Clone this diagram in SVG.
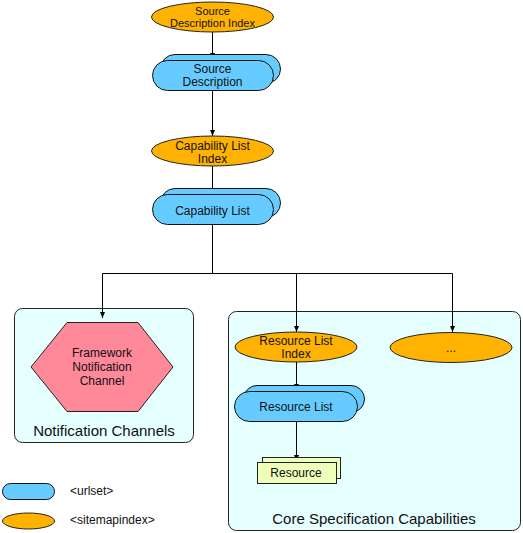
<svg xmlns="http://www.w3.org/2000/svg" width="523" height="533" viewBox="0 0 523 533">
<style>
text{font-family:"Liberation Sans",Arial,sans-serif;font-size:12px;fill:#111;text-anchor:middle}
.idx{fill:#FFB300;stroke:#222;stroke-width:1}
.url{fill:#66CCFF;stroke:#111;stroke-width:1}
.grp{fill:#E6FFFF;stroke:#222;stroke-width:1}
.res{fill:#EEFFBB;stroke:#222;stroke-width:1}
.big{font-size:15px}
.sm{font-size:11px}
.lg{text-anchor:start}
.c{fill:none;stroke:#000;stroke-width:1}
</style>
<defs>
<marker id="ah" viewBox="0 0 6 6" refX="6" refY="3" markerWidth="6" markerHeight="6" orient="auto" markerUnits="userSpaceOnUse">
<path d="M0,0.5 L6,3 L0,5.5 z" fill="#000"/>
</marker>
</defs>
<rect width="523" height="533" fill="#fff"/>
<g id="notification-channels">
<rect class="grp" x="14.5" y="308.5" width="179" height="134" rx="8"/>
<text class="big" x="104" y="436">Notification Channels</text>
</g>
<g id="core-capabilities">
<rect class="grp" x="228.5" y="311.5" width="292" height="219" rx="8"/>
<text class="big" x="374" y="524">Core Specification Capabilities</text>
</g>
<g id="connectors">
<path class="c" d="M212.5,32 V59" marker-end="url(#ah)"/>
<path class="c" d="M212.5,90 V136" marker-end="url(#ah)"/>
<path class="c" d="M212.5,166 V194" marker-end="url(#ah)"/>
<path class="c" d="M212.5,225 V273.5 H102.5 V318" marker-end="url(#ah)"/>
<path class="c" d="M212.5,273.5 H452.5 V332" marker-end="url(#ah)"/>
<path class="c" d="M296.5,273.5 V332" marker-end="url(#ah)"/>
<path class="c" d="M296.5,362 V390" marker-end="url(#ah)"/>
<path class="c" d="M296.5,421 V461" marker-end="url(#ah)"/>
</g>
<g id="source-description-index">
<ellipse class="idx" cx="212.5" cy="17" rx="61" ry="15"/>
<text class="sm" x="212.5" y="15">Source</text>
<text class="sm" x="212.5" y="27">Description Index</text>
</g>
<g id="source-description">
<rect class="url" x="160.5" y="54.5" width="120" height="29" rx="14.5"/>
<rect class="url" x="152.5" y="60.5" width="121" height="30" rx="15"/>
<text x="212.5" y="73">Source</text>
<text x="212.5" y="86">Description</text>
</g>
<g id="capability-list-index">
<ellipse class="idx" cx="212.5" cy="151" rx="61" ry="15"/>
<text x="212.5" y="150">Capability List</text>
<text x="212.5" y="163">Index</text>
</g>
<g id="capability-list">
<rect class="url" x="160.5" y="188.5" width="120" height="29" rx="14.5"/>
<rect class="url" x="152.5" y="194.5" width="121" height="30" rx="15"/>
<text x="212.5" y="215">Capability List</text>
</g>
<g id="framework-notification-channel">
<polygon points="31,367 67,322.5 138,322.5 173,367 138,411.5 67,411.5" fill="#FF8899" stroke="#222"/>
<text x="102" y="357">Framework</text>
<text x="102" y="371">Notification</text>
<text x="102" y="385">Channel</text>
</g>
<g id="resource-list-index">
<ellipse class="idx" cx="296" cy="347" rx="61" ry="15"/>
<text x="296" y="345">Resource List</text>
<text x="296" y="358">Index</text>
</g>
<g id="more">
<ellipse class="idx" cx="451" cy="347.5" rx="61" ry="15"/>
<text x="451" y="352">...</text>
</g>
<g id="resource-list">
<rect class="url" x="243.5" y="385.5" width="121" height="27" rx="13.5"/>
<rect class="url" x="234.5" y="391.5" width="123" height="30" rx="15"/>
<text x="296" y="411">Resource List</text>
</g>
<g id="resource">
<rect class="res" x="262.5" y="457.5" width="78" height="21"/>
<rect class="res" x="257.5" y="462.5" width="79" height="21"/>
<text x="296" y="477">Resource</text>
</g>
<g id="legend-urlset">
<rect class="url" x="2.5" y="483.5" width="52" height="16" rx="8"/>
<text class="lg" x="70" y="495">&lt;urlset&gt;</text>
</g>
<g id="legend-sitemapindex">
<ellipse class="idx" cx="28.5" cy="521" rx="26" ry="8"/>
<text class="lg" x="70" y="524">&lt;sitemapindex&gt;</text>
</g>
</svg>
